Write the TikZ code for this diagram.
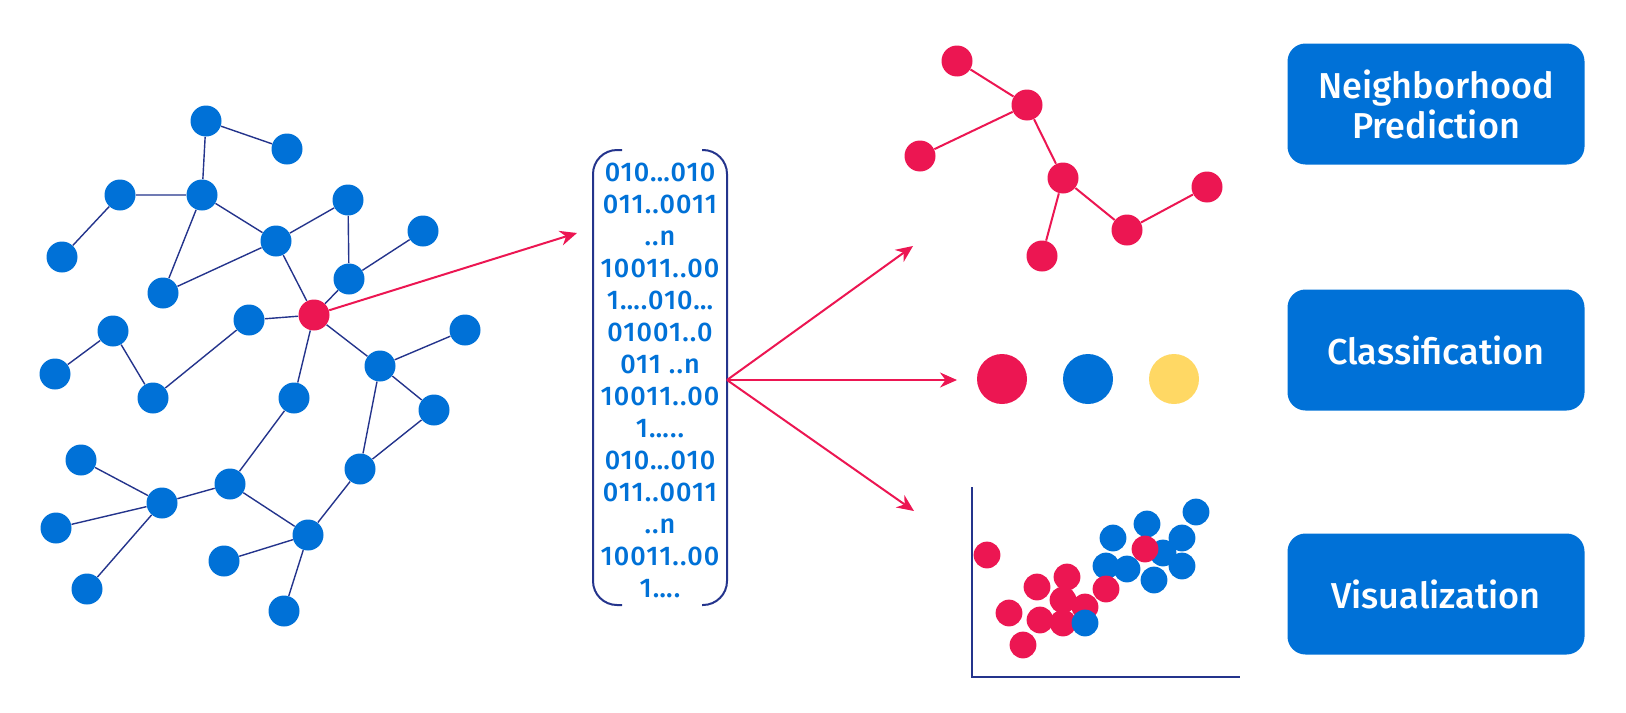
\documentclass[tikz,border=0pt]{standalone}
\usepackage{fontspec}
\setmainfont{Fira Sans}
\newfontfamily\labelfont{Fira Sans}[UprightFont={* Medium}]
\newfontfamily\vecfont{Fira Sans}[UprightFont={* Medium},LetterSpace=4]
\usetikzlibrary{arrows.meta}
\definecolor{gblue}{RGB}{0,113,215}
\definecolor{gred}{RGB}{236,22,82}
\definecolor{gnavy}{RGB}{36,52,140}
\definecolor{gyellow}{RGB}{255,216,100}
\begin{document}
\begin{tikzpicture}[x=0.5pt,y=-0.5pt,
  gnode/.style={circle,fill=gblue,inner sep=0pt,minimum size=15.5pt},
  hnode/.style={gnode,fill=gred},
  edge/.style={draw=gnavy,line width=0.7pt},
  redge/.style={draw=gred,line width=1pt},
  arr/.style={draw=gred,line width=1pt,-{Stealth[length=8.5pt,width=7.5pt]}},
  dot/.style={circle,inner sep=0pt,minimum size=13.4pt},
  task/.style={rectangle,rounded corners=9pt,fill=gblue,text=white,
    minimum width=148.5pt,minimum height=60.5pt,align=center,
    font=\labelfont\fontsize{18}{20}\selectfont}]
  \useasboundingbox (0,0) rectangle (1626,712);
  % input graph, red node in the middle
  \node[gnode] (n1) at (206,121) {};
  \node[gnode] (n2) at (287,149) {};
  \node[gnode] (n3) at (120,195) {};
  \node[gnode] (n4) at (202,195) {};
  \node[gnode] (n5) at (348,200) {};
  \node[gnode] (n6) at (62,257) {};
  \node[gnode] (n7) at (276,241) {};
  \node[gnode] (n8) at (423,231) {};
  \node[gnode] (n9) at (163,293) {};
  \node[gnode] (n10) at (349,279) {};
  \node[hnode] (c) at (314,315) {};
  \node[gnode] (n11) at (249,320) {};
  \node[gnode] (n12) at (113,331) {};
  \node[gnode] (n13) at (465,330) {};
  \node[gnode] (n14) at (55,374) {};
  \node[gnode] (n15) at (380,366) {};
  \node[gnode] (n16) at (153,398) {};
  \node[gnode] (n17) at (294,398) {};
  \node[gnode] (n18) at (434,410) {};
  \node[gnode] (n19) at (81,460) {};
  \node[gnode] (n20) at (360,469) {};
  \node[gnode] (n21) at (230,484) {};
  \node[gnode] (n22) at (162,503) {};
  \node[gnode] (n23) at (56,528) {};
  \node[gnode] (n24) at (308,535) {};
  \node[gnode] (n25) at (224,561) {};
  \node[gnode] (n26) at (87,589) {};
  \node[gnode] (n27) at (284,611) {};
  \draw[edge] (n1) -- (n2) (n1) -- (n4) (n3) -- (n4) (n3) -- (n6)
    (n4) -- (n7) (n4) -- (n9) (n9) -- (n7) (n7) -- (n5) (n5) -- (n10)
    (n10) -- (n8) (n7) -- (c) (n10) -- (c) (c) -- (n11) (n11) -- (n16)
    (n16) -- (n12) (n12) -- (n14) (c) -- (n15) (n15) -- (n13)
    (n15) -- (n18) (n15) -- (n20) (n18) -- (n20) (c) -- (n17)
    (n17) -- (n21) (n21) -- (n22) (n22) -- (n19) (n22) -- (n23)
    (n22) -- (n26) (n21) -- (n24) (n24) -- (n20) (n24) -- (n25)
    (n24) -- (n27);
  % embedding vector
  \node[text=gblue,font=\vecfont\fontsize{13.5}{16}\selectfont,align=center] (vec) at (660,380)
    {010…010\\011..0011\\..n\\10011..00\\1….010…\\01001..0\\011 ..n\\10011..00\\
     1…..\\010…010\\011..0011\\..n\\10011..00\\1….};
  \draw[gnavy,line width=1pt,rounded corners=12pt] (622,150) -- (593,150) -- (593,605) -- (622,605);
  \draw[gnavy,line width=1pt,rounded corners=12pt] (702,150) -- (727,150) -- (727,605) -- (702,605);
  \coordinate (vtip) at (577,233);
  \coordinate (vout) at (727,380);
  \coordinate (t1) at (913,246);
  \coordinate (t2) at (957,380);
  \coordinate (t3) at (914,511);
  \draw[arr] (c) -- (vtip);
  \draw[arr] (vout) -- (t1);
  \draw[arr] (vout) -- (t2);
  \draw[arr] (vout) -- (t3);
  % predicted neighbourhood
  \node[hnode] (r1) at (957,61) {};
  \node[hnode] (r2) at (1027,105) {};
  \node[hnode] (r3) at (920,156) {};
  \node[hnode] (r4) at (1063,178) {};
  \node[hnode] (r5) at (1207,187) {};
  \node[hnode] (r6) at (1127,230) {};
  \node[hnode] (r7) at (1042,256) {};
  \draw[redge] (r1) -- (r2) (r2) -- (r3) (r2) -- (r4) (r4) -- (r7) (r4) -- (r6) (r6) -- (r5);
  % classes
  \node[dot,fill=gred,minimum size=25pt] (k1) at (1002,379) {};
  \node[dot,fill=gblue,minimum size=25pt] (k2) at (1088,379) {};
  \node[dot,fill=gyellow,minimum size=25pt] (k3) at (1174,379) {};
  % scatter plot
  \coordinate (o) at (972,677);
  \draw[gnavy,line width=1pt] (972,487) -- (o) -- (1240,677);
  \foreach \x/\y [count=\i] in {1113/538,1147/524,1196/512,1182/538,1163/553,
      1106/566,1127/569,1154/580,1182/566}
    \node[dot,fill=gblue] (sb\i) at (\x,\y) {};
  \foreach \x/\y [count=\i] in {987/555,1037/587,1067/577,1009/613,1040/620,
      1063/600,1085/607,1063/623,1023/645,1106/589,1145/549}
    \node[dot,fill=gred] (sr\i) at (\x,\y) {};
  \node[dot,fill=gblue] (sb10) at (1085,623) {};
  % tasks
  \node[task] (np) at (1436,104) {Neighborhood\\Prediction};
  \node[task] (cl) at (1436,350) {Classification};
  \node[task] (vis) at (1436,594) {Visualization};
\end{tikzpicture}
\end{document}
